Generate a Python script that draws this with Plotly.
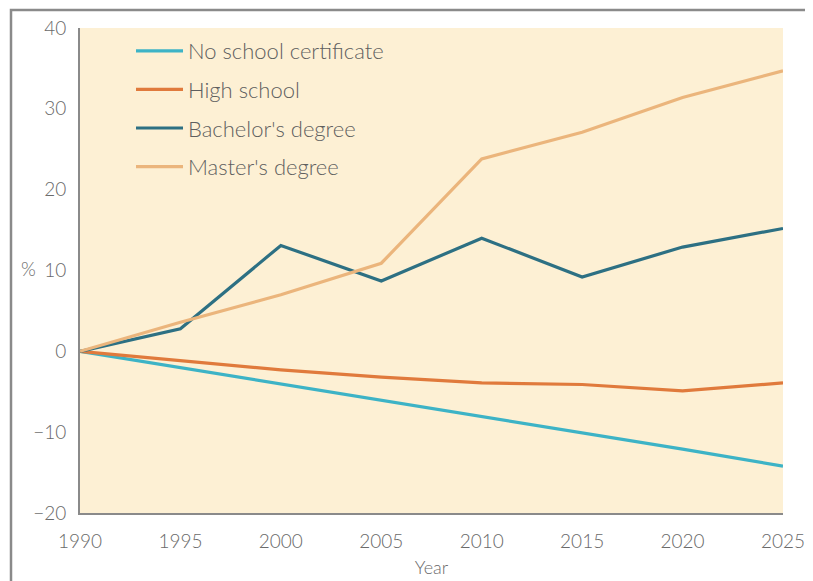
import plotly.graph_objects as go

years = [1990, 1995, 2000, 2005, 2010, 2015, 2020, 2025]
no_school = [0, -2.0, -4.0, -6.0, -8.0, -10.0, -12.1, -14.2]
high_school = [0, -1.2, -2.3, -3.2, -3.9, -4.1, -4.9, -3.9]
bachelors = [0, 2.8, 13.1, 8.7, 14.0, 9.2, 12.9, 15.2]
masters = [0, 3.6, 7.0, 10.9, 23.8, 27.1, 31.4, 34.7]

series_names = ["No school certificate", "High school", "Bachelor's degree", "Master's degree"]
series_values = [no_school, high_school, bachelors, masters]
series_colors = ["#3db3c6", "#e07a3c", "#2d7083", "#ebb57c"]

x_ticks = [1990, 1995, 2000, 2005, 2010, 2015, 2020, 2025]
y_ticks = [-20, -10, 0, 10, 20, 30, 40]

fig = go.Figure()
for i, (name, vals, col) in enumerate(zip(series_names, series_values, series_colors)):
    fig.add_trace(go.Scatter(
        x=years, y=vals, mode="lines", name=name,
        line=dict(color=col, width=3.2),
        legendgroup=f"g{i}",
    ))

OFF = 8
W, H = 805, 573
PL, PR, PT, PB = 80, 783, 28, 513
ml, mt = PL - OFF, PT - OFF
mr = OFF + W - PR
mb = OFF + H - PB
pw, ph = PR - PL, PB - PT

def sx(px):
    return (px - PL) / pw

def sy(py):
    return (PB - py) / ph

x0 = sx(11)
x1 = sx(810)
y_top = sy(10)
y_bot = sy(600)

fig.update_layout(
    width=W, height=H,
    margin=dict(l=ml, r=mr, t=mt, b=mb, autoexpand=False),
    paper_bgcolor="white",
    plot_bgcolor="#fdf0d4",
    font=dict(family="Lato, Open Sans, sans-serif", size=19, color="#6a6a6a", weight=300),
    showlegend=True,
    legend=dict(
        x=sx(131), y=sy(30), xanchor="left", yanchor="top",
        bgcolor="rgba(0,0,0,0)", font=dict(size=22, color="#5f5f5f", weight=300),
        tracegroupgap=7, itemwidth=47,
    ),
    xaxis=dict(
        range=[1990, 2025], tickvals=x_ticks, ticktext=[str(t) for t in x_ticks],
        showgrid=False, zeroline=False, showline=True, linecolor="#8a8a8a", linewidth=2,
        ticks="", ticklabelstandoff=10, automargin=False,
        title=dict(text="Year", standoff=11, font=dict(size=18, color="#6a6a6a", weight=300)),
    ),
    yaxis=dict(
        range=[-20, 40], tickvals=y_ticks,
        showgrid=False, zeroline=False, showline=True, linecolor="#8a8a8a", linewidth=2,
        ticks="", ticklabelstandoff=8, automargin=False,
    ),
    shapes=[dict(
        type="path", xref="paper", yref="paper",
        path=f"M {x0} {y_bot} L {x0} {y_top} L {x1} {y_top} L {x1} {y_bot}",
        line=dict(color="#8a8a8a", width=2.5),
    )],
    annotations=[dict(
        text="%", xref="paper", yref="paper",
        x=sx(28), y=sy(268), xanchor="center", yanchor="middle", showarrow=False,
        font=dict(size=19, color="#6a6a6a", weight=300),
    )],
)

fig.write_html("out.html")
